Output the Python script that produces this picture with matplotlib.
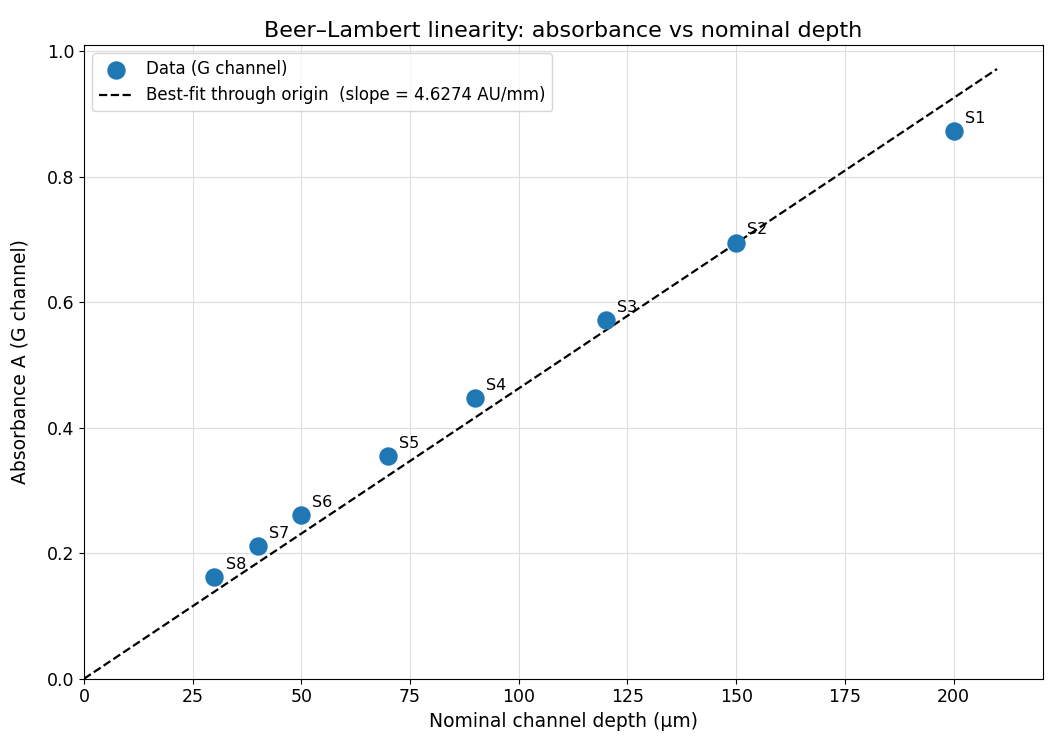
import matplotlib
matplotlib.use("Agg")
import matplotlib.pyplot as plt
import numpy as np

labels = ["S1","S2","S3","S4","S5","S6","S7","S8"]
depth = [200,150,120,90,70,50,40,30]
absorb = [0.873,0.695,0.572,0.447,0.355,0.261,0.211,0.162]
slope = 4.6274  # AU/mm

fig, ax = plt.subplots(figsize=(10.5,7.5), dpi=100)
ax.scatter(depth, absorb, s=150, color="#1f77b4", zorder=3, label="Data (G channel)")
xs = np.array([0, 210])
ax.plot(xs, slope*xs/1000, "k--", lw=1.6, label=f"Best-fit through origin  (slope = {slope:.4f} AU/mm)")
for l, x, y in zip(labels, depth, absorb):
    ax.annotate(l, (x, y), xytext=(8, 6), textcoords="offset points", fontsize=11.5)
ax.set_xlim(0, 220.5)
ax.set_ylim(0, 1.01)
ax.grid(True, color="#dddddd", lw=0.8)
ax.set_xlabel("Nominal channel depth (µm)", fontsize=13.5)
ax.set_ylabel("Absorbance A (G channel)", fontsize=13.5, labelpad=12)
ax.set_title("Beer–Lambert linearity: absorbance vs nominal depth", fontsize=16)
ax.tick_params(labelsize=12.5)
ax.legend(loc="upper left", fontsize=12)
fig.subplots_adjust(left=0.08, right=0.993, bottom=0.095, top=0.94)
fig.savefig("out.png")
